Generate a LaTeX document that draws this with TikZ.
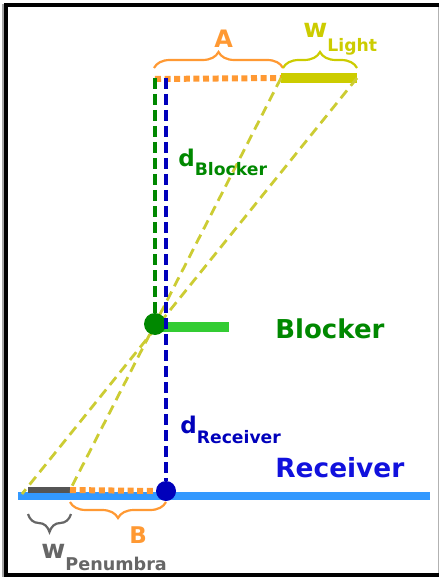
\documentclass[tikz,border=0pt]{standalone}
\usepackage{fontspec}
\setmainfont{DejaVu Sans}
\usetikzlibrary{decorations.pathreplacing}
\definecolor{orng}{HTML}{FF9933}
\definecolor{lightc}{HTML}{CCCC00}
\definecolor{raycol}{HTML}{CCCC33}
\definecolor{dgreen}{HTML}{008800}
\definecolor{lgreen}{HTML}{33CC33}
\definecolor{dblue}{HTML}{0000BB}
\definecolor{tblue}{HTML}{1111DD}
\definecolor{rblue}{HTML}{3399FF}
\definecolor{pgray}{HTML}{555555}
\definecolor{tgray}{HTML}{666666}
\begin{document}
\begin{tikzpicture}[x=0.5pt,y=-0.5pt,
  lbl/.style={anchor=base west,inner sep=0pt,font=\bfseries},
  dotline/.style={orng,line width=3pt,dash pattern=on 3pt off 1.8pt},
  vdash/.style={line width=2pt,dash pattern=on 5.5pt off 2.5pt},
  ray/.style={raycol,line width=1.4pt,dash pattern=on 5pt off 3pt},
  brc/.style={line width=1.1pt,decorate,decoration={brace,amplitude=#1}},
  dotnode/.style={circle,fill=#1,inner sep=0pt,minimum size=10pt}]
\useasboundingbox (0,0) rectangle (439,577);
% frame
\draw[black!30,line width=0.5pt] (438,4) -- (438,576);
\draw[black!35,line width=0.6pt] (3,4) -- (3,577);
\draw[black,line width=2pt] (439,5.5) -- (6,5.5) -- (6,575) -- (439,575);
% coordinates
\coordinate (LA) at (155,79);
\coordinate (LL) at (281,78);
\coordinate (LR) at (357,78);
\coordinate (BT) at (166,78);
\coordinate (GT) at (155,78);
\coordinate (BR) at (229,327);
\coordinate (RL) at (18,496);
\coordinate (RR) at (430,496);
\coordinate (PL) at (28,490);
\coordinate (PR) at (70,490);
\coordinate (PE) at (22,494);
% receiver
\draw[rblue,line width=4pt] (RL) -- (RR);
\draw[pgray,line width=2.6pt] (PL) -- (PR);
\node[dotnode=dblue] (rd) at (166,491) {};
\draw[dotline] (PR) -- (rd.west);
% light
\draw[dotline] (LA) -- (LL);
\draw[lightc,line width=5pt] (LL) -- (LR);
% blocker bar
\draw[lgreen,line width=5pt] (160,327) -- (BR);
% rays
\draw[ray] (LR) -- (PE);
\draw[ray] (LL) -- (PR);
% verticals and blocker
\node[dotnode=dgreen,minimum size=11pt] (bd) at (155,324) {};
\draw[dgreen,vdash] (GT) -- (bd.north);
\draw[dblue,vdash] (BT) -- (rd.north);
% braces
\draw[orng,brc=8pt] (154,68) -- (283,68);
\draw[lightc,brc=8pt] (283,68) -- (357,68);
\draw[orng,brc=8pt] (166,502) -- (70,502);
\draw[tgray,brc=9pt] (71,514) -- (28,514);
% labels
\node[lbl,text=orng,font=\bfseries\fontsize{12}{12}\selectfont] (la) at (214,48) {A};
\node[lbl,text=lightc] (lw) at (303,38) {\fontsize{13}{13}\selectfont w\raisebox{-7pt}{\fontsize{8.6}{8.6}\selectfont Light}};
\node[lbl,text=dgreen] (ldb) at (178,167) {\fontsize{11.5}{11.5}\selectfont d\raisebox{-4.5pt}{\fontsize{8.6}{8.6}\selectfont Blocker}};
\node[lbl,text=dgreen,font=\bfseries\fontsize{13}{13}\selectfont] (lb) at (275,338) {Blocker};
\node[lbl,text=dblue] (ldr) at (180,433) {\fontsize{11.5}{11.5}\selectfont d\raisebox{-5pt}{\fontsize{8.6}{8.6}\selectfont Receiver}};
\node[lbl,text=tblue,font=\bfseries\fontsize{13.2}{13.2}\selectfont] (lr) at (275,477) {Receiver};
\node[lbl,text=orng,font=\bfseries\fontsize{11.5}{11.5}\selectfont] (lbb) at (129,543) {B};
\node[lbl,text=tgray] (lp) at (41,558) {\fontsize{13}{13}\selectfont w\raisebox{-6pt}{\fontsize{8.8}{8.8}\selectfont Penumbra}};
\end{tikzpicture}
\end{document}
